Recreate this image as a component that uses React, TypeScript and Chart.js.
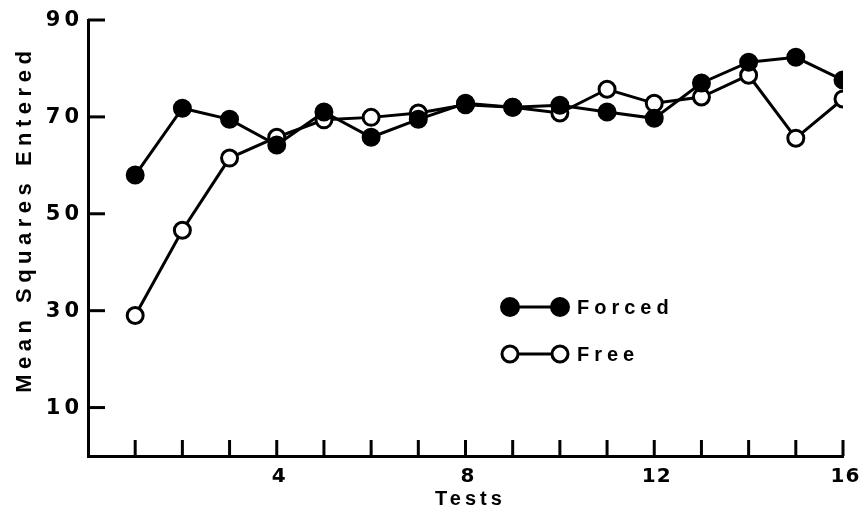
import React, { useEffect, useRef } from "react";
import { Chart, registerables } from "chart.js";

Chart.register(...registerables);

const tests = [1, 2, 3, 4, 5, 6, 7, 8, 9, 10, 11, 12, 13, 14, 15, 16];
const forced = [58, 71.8, 69.5, 64.2, 71, 65.8, 69.5, 72.8, 72, 72.4, 71, 69.7, 77, 81.3, 82.3, 77.6];
const free = [29, 46.6, 61.5, 65.8, 69.4, 69.9, 70.8, 72.5, 72, 70.8, 75.7, 72.8, 74.1, 78.6, 65.6, 73.7];
const yTicks = [10, 30, 50, 70, 90];
const xLabelTicks = [4, 8, 12, 16];
const seriesNames = ["Forced", "Free"];
const xTitle = "Tests";
const yTitle = "Mean Squares Entered";

const WORD_FONT = "'Liberation Sans', Arial, sans-serif";
const DIGIT_FONT = "'DejaVu Sans', sans-serif";

function drawSpaced(
  ctx: CanvasRenderingContext2D,
  text: string,
  x: number,
  y: number,
  align: "left" | "center" | "right",
  spacing: number
) {
  const c = ctx as any;
  c.letterSpacing = "0px";
  const w0 = ctx.measureText(text).width;
  const total = w0 + (text.length - 1) * spacing;
  let left = x;
  if (align === "center") left = x - total / 2;
  else if (align === "right") left = x - total;
  c.letterSpacing = spacing + "px";
  ctx.textAlign = "left";
  ctx.fillText(text, left, y);
  c.letterSpacing = "0px";
}

export default function App() {
  const ref = useRef<HTMLCanvasElement | null>(null);
  useEffect(() => {
    document.body.style.margin = "0";
    const canvas = ref.current!;
    const decorPlugin = {
      id: "decor",
      afterDraw(chart: any) {
        const ctx: CanvasRenderingContext2D = chart.ctx;
        const xs = chart.scales.x;
        const ys = chart.scales.y;
        const area = chart.chartArea;
        ctx.save();
        ctx.strokeStyle = "#000";
        ctx.fillStyle = "#000";
        ctx.lineWidth = 3;
        ctx.lineCap = "butt";
        // inward tick marks
        ys.ticks.forEach((t: any) => {
          const y = ys.getPixelForValue(t.value);
          ctx.beginPath();
          ctx.moveTo(area.left, y);
          ctx.lineTo(area.left + 17, y);
          ctx.stroke();
        });
        xs.ticks.forEach((t: any) => {
          if (t.value <= 0) return;
          const x = xs.getPixelForValue(t.value);
          ctx.beginPath();
          ctx.moveTo(x, area.bottom);
          ctx.lineTo(x, area.bottom - 16);
          ctx.stroke();
        });
        // tick labels
        ctx.textBaseline = "middle";
        ctx.font = `bold 21px ${DIGIT_FONT}`;
        ys.ticks.forEach((t: any) => {
          const y = ys.getPixelForValue(t.value);
          drawSpaced(ctx, String(t.value), 79, y + 1, "right", 4);
        });
        ctx.font = `bold 20px ${DIGIT_FONT}`;
        xs.ticks.forEach((t: any) => {
          if (!xLabelTicks.includes(t.value)) return;
          const x = xs.getPixelForValue(t.value);
          drawSpaced(ctx, String(t.value), x + 2, area.bottom + 21, "center", 1);
        });
        // axis titles
        ctx.font = `bold 20px ${WORD_FONT}`;
        drawSpaced(ctx, xTitle, (area.left + area.right) / 2 + 3, 499, "center", 4);
        ctx.save();
        ctx.translate(25, 222);
        ctx.rotate(-Math.PI / 2);
        ctx.font = `bold 22px ${WORD_FONT}`;
        drawSpaced(ctx, yTitle, 0, 0, "center", 5.5);
        ctx.restore();
        // legend
        const rows = [
          { name: seriesNames[0], y: 307, fill: "#000", r: 9, bw: 2 },
          { name: seriesNames[1], y: 354, fill: "#fff", r: 8, bw: 3 },
        ];
        rows.forEach((r) => {
          ctx.lineWidth = 3;
          ctx.beginPath();
          ctx.moveTo(510, r.y);
          ctx.lineTo(560, r.y);
          ctx.stroke();
          [510, 560].forEach((cx) => {
            ctx.beginPath();
            ctx.arc(cx, r.y, r.r, 0, Math.PI * 2);
            ctx.fillStyle = r.fill;
            ctx.fill();
            ctx.lineWidth = r.bw;
            ctx.stroke();
          });
          ctx.fillStyle = "#000";
          ctx.font = `bold 20px ${WORD_FONT}`;
          ctx.textBaseline = "middle";
          drawSpaced(ctx, r.name, 577, r.y + 1, "left", 5);
        });
        ctx.restore();
      },
    };
    const chart = new Chart(canvas, {
      type: "line",
      data: {
        datasets: [
          {
            label: seriesNames[0],
            data: tests.map((t, i) => ({ x: t, y: forced[i] })),
            borderColor: "#000",
            backgroundColor: "#000",
            borderWidth: 3,
            pointRadius: 8.5,
            pointBorderWidth: 2,
            pointBackgroundColor: "#000",
            pointBorderColor: "#000",
            tension: 0,
          },
          {
            label: seriesNames[1],
            data: tests.map((t, i) => ({ x: t, y: free[i] })),
            borderColor: "#000",
            backgroundColor: "#fff",
            borderWidth: 3,
            pointRadius: 8,
            pointBorderWidth: 3,
            pointBackgroundColor: "#fff",
            pointBorderColor: "#000",
            tension: 0,
          },
        ],
      },
      options: {
        animation: false,
        responsive: false,
        maintainAspectRatio: false,
        layout: { padding: { top: 20, right: 17, left: 0, bottom: 0 } },
        plugins: { legend: { display: false }, tooltip: { enabled: false } },
        scales: {
          x: {
            type: "linear",
            min: 0,
            max: 16,
            afterBuildTicks: (s: any) => {
              s.ticks = tests.map((v) => ({ value: v }));
            },
            afterFit: (s: any) => {
              s.height = 52;
            },
            ticks: { display: false, autoSkip: false },
            grid: { display: true, drawOnChartArea: false, drawTicks: false },
            border: { display: true, color: "#000", width: 3 },
            title: { display: false },
          },
          y: {
            type: "linear",
            min: 0,
            max: 90,
            afterBuildTicks: (s: any) => {
              s.ticks = yTicks.map((v) => ({ value: v }));
            },
            afterFit: (s: any) => {
              s.width = 88;
            },
            ticks: { display: false },
            grid: { display: true, drawOnChartArea: false, drawTicks: false },
            border: { display: true, color: "#000", width: 3 },
            title: { display: false },
          },
        },
      } as any,
      plugins: [decorPlugin],
    });
    return () => chart.destroy();
  }, []);
  return (
    <div style={{ position: "absolute", left: 0, top: 0, width: 860, height: 508, background: "#fff" }}>
      <canvas ref={ref} width={860} height={508} style={{ width: 860, height: 508 }} />
    </div>
  );
}
